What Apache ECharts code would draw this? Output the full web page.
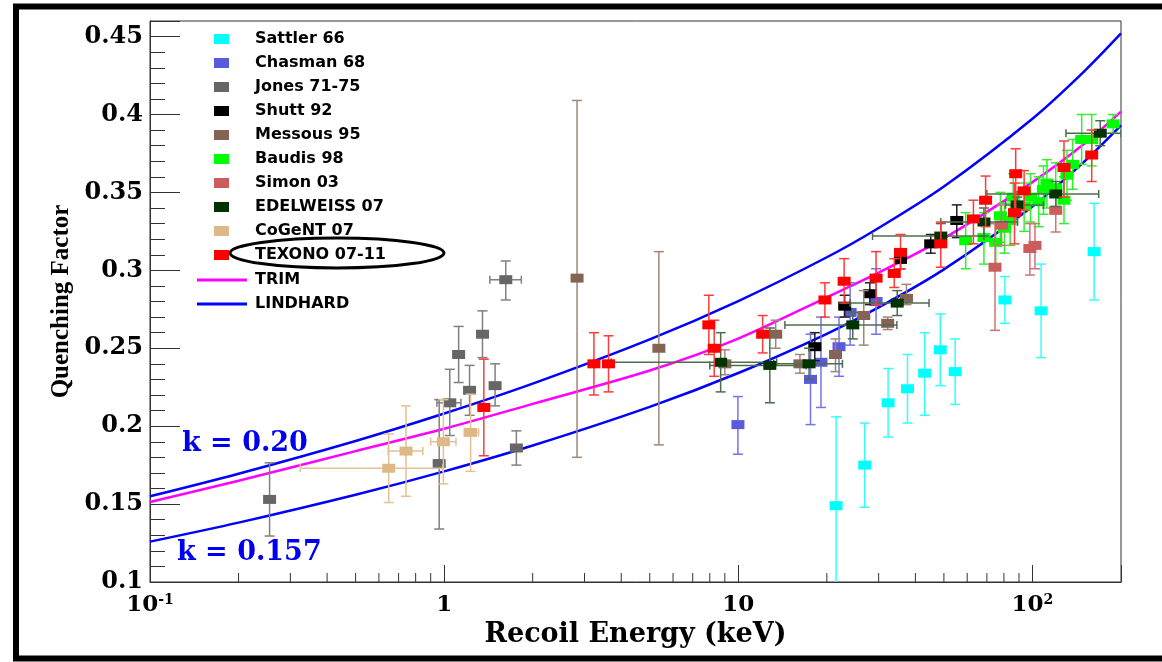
<!DOCTYPE html>
<html><head><meta charset="utf-8">
<script src="https://cdn.jsdelivr.net/npm/echarts@6/dist/echarts.min.js"></script>
<style>html,body{margin:0;padding:0;background:#fff}#c{width:1162px;height:662px}</style>
</head><body><div id="c"></div>
<script>
// Rows: [energy keV, quenching factor, error low, error high, (x error low), (x error high)]
const sattler = [
  [21.5, 0.149, 0.09, 0.206], [26.9, 0.175, 0.148, 0.202], [32.3, 0.215, 0.193, 0.237],
  [37.6, 0.224, 0.202, 0.246], [43.0, 0.234, 0.207, 0.260], [48.6, 0.249, 0.226, 0.272],
  [54.6, 0.235, 0.214, 0.256], [80.6, 0.281, 0.266, 0.296], [107, 0.274, 0.244, 0.304],
  [162, 0.312, 0.281, 0.343]
];
const chasman = [
  [9.97, 0.201, 0.182, 0.219], [17.6, 0.230, 0.201, 0.259], [19.1, 0.241, 0.212, 0.270],
  [22.0, 0.251, 0.232, 0.270], [24.0, 0.273, 0.252, 0.292], [29.4, 0.280, 0.259, 0.301]
];
const jones = [
  [0.255, 0.153, 0.1295, 0.1765], [0.962, 0.176, 0.134, 0.217], [1.045, 0.215, 0.194, 0.2365, 0.945, 1.14],
  [1.12, 0.246, 0.228, 0.264], [1.22, 0.223, 0.207, 0.239], [1.35, 0.259, 0.244, 0.274],
  [1.49, 0.226, 0.213, 0.240], [1.62, 0.294, 0.281, 0.306, 1.43, 1.83], [1.76, 0.186, 0.175, 0.197]
];
const shutt = [
  [18.2, 0.251, 0.242, 0.260], [23.0, 0.277, 0.270, 0.284], [28.0, 0.285, 0.278, 0.292],
  [35.6, 0.307, 0.301, 0.313], [45.1, 0.317, 0.311, 0.323], [55.3, 0.332, 0.321, 0.342]
];
const messous = [
  [2.83, 0.295, 0.180, 0.409], [5.37, 0.250, 0.188, 0.312], [9.0, 0.240, 0.233, 0.249],
  [13.4, 0.259, 0.250, 0.268], [16.2, 0.240, 0.234, 0.246], [21.4, 0.246, 0.235, 0.256],
  [26.7, 0.271, 0.252, 0.287], [32.2, 0.266, 0.262, 0.270], [37.3, 0.282, 0.278, 0.291]
];
const baudis = [
  [59.3, 0.319, 0.301, 0.337], [68.4, 0.321, 0.304, 0.337], [75.0, 0.318, 0.302, 0.330],
  [77.8, 0.335, 0.318, 0.350], [80.3, 0.327, 0.311, 0.343], [84.0, 0.332, 0.316, 0.347],
  [86.0, 0.347, 0.331, 0.362], [93.7, 0.341, 0.325, 0.356], [98.5, 0.347, 0.331, 0.362],
  [105, 0.344, 0.328, 0.360], [109, 0.352, 0.336, 0.367], [112, 0.356, 0.340, 0.371],
  [120, 0.353, 0.337, 0.369], [128, 0.345, 0.330, 0.360], [131, 0.361, 0.345, 0.377],
  [137, 0.368, 0.352, 0.384], [147, 0.384, 0.368, 0.400], [159, 0.384, 0.367, 0.400],
  [188, 0.394, 0.388, 0.400]
];
const simon = [
  [74.6, 0.302, 0.2615, 0.330], [78.5, 0.329, 0.316, 0.342], [98, 0.314, 0.297, 0.330],
  [102, 0.316, 0.301, 0.330], [120, 0.3385, 0.3246, 0.3487]
];
const edelweiss = [
  [8.71, 0.241, 0.222, 0.260, 3.7, 13.5], [12.8, 0.239, 0.215, 0.263, 8.0, 17.0],
  [17.4, 0.240, 0.230, 0.250, 13.2, 22.6], [24.5, 0.265, 0.256, 0.273, 14.4, 34.6],
  [34.7, 0.279, 0.271, 0.287, 24.0, 44.5], [48.8, 0.322, 0.315, 0.330, 28.6, 68.4],
  [68.4, 0.331, 0.322, 0.340, 48.8, 89], [88.8, 0.342, 0.337, 0.347, 81, 109],
  [120, 0.349, 0.341, 0.357, 70, 168], [170, 0.388, 0.380, 0.396, 130, 200]
];
const cogent = [
  [0.648, 0.173, 0.151, 0.195, 0.324, 0.99], [0.742, 0.184, 0.155, 0.213, 0.645, 0.846],
  [0.994, 0.190, 0.163, 0.217, 0.90, 1.097], [1.23, 0.196, 0.171, 0.2205, 1.17, 1.31]
];
const texono = [
  [1.364, 0.212, 0.181, 0.243], [3.23, 0.240, 0.220, 0.260], [3.62, 0.240, 0.222, 0.258],
  [7.94, 0.265, 0.246, 0.284], [8.28, 0.250, 0.232, 0.268], [12.1, 0.259, 0.247, 0.271],
  [19.7, 0.281, 0.270, 0.292], [22.9, 0.293, 0.279, 0.3075], [29.4, 0.295, 0.278, 0.312],
  [33.9, 0.298, 0.289, 0.3075], [35.6, 0.3115, 0.301, 0.323], [48.8, 0.317, 0.302, 0.331],
  [63, 0.333, 0.317, 0.345], [69.3, 0.345, 0.328, 0.3605], [86.9, 0.337, 0.317, 0.356],
  [87.7, 0.362, 0.337, 0.378], [93.7, 0.351, 0.3385, 0.364], [128, 0.366, 0.347, 0.383],
  [159, 0.374, 0.357, 0.390]
];
// Curves
const trimE = [0.1, 0.2, 0.5, 1, 2, 5, 10, 20, 30, 50, 100, 150, 200];
const trimQ = [0.1513, 0.165, 0.184, 0.1983, 0.2143, 0.2357, 0.2562, 0.2827, 0.2985, 0.3205, 0.3566, 0.3812, 0.4018];
const lindE = [0.1, 0.2, 0.5, 1, 2, 5, 10, 20, 30, 50, 100, 150, 200];
const lindK020 = [0.1550, 0.1695, 0.1905, 0.2081, 0.2273, 0.2557, 0.2803, 0.3084, 0.3272, 0.3538, 0.3973, 0.4277, 0.4520];
const lindK0157 = [0.1259, 0.1381, 0.1560, 0.1710, 0.1876, 0.2124, 0.2341, 0.2593, 0.2762, 0.3006, 0.3410, 0.3698, 0.3930];
// Axis ticks
const xMajorTicks = [0.1, 1, 10, 100];
const xTickBase = ['10', '1', '10', '10'];
const xTickExp = ['-1', '', '', '2'];
const xMinorTicks = [0.2, 0.3, 0.4, 0.5, 0.6, 0.7, 0.8, 0.9, 2, 3, 4, 5, 6, 7, 8, 9, 20, 30, 40, 50, 60, 70, 80, 90];
const yTickValues = [0.1, 0.15, 0.2, 0.25, 0.3, 0.35, 0.4, 0.45];
const yTickLabels = ['0.1', '0.15', '0.2', '0.25', '0.3', '0.35', '0.4', '0.45'];

const datasets = [
  { name: 'Sattler 66', data: sattler, color: '#00ffff', err: '#33ffff' },
  { name: 'Chasman 68', data: chasman, color: '#5a5adc', err: '#7474e4' },
  { name: 'Jones 71-75', data: jones, color: '#666666', err: '#808080' },
  { name: 'Shutt 92', data: shutt, color: '#000000', err: '#222222' },
  { name: 'Messous 95', data: messous, color: '#856456', err: '#a08779' },
  { name: 'Baudis 98', data: baudis, color: '#00ff00', err: '#33ee33' },
  { name: 'Simon 03', data: simon, color: '#cd5c5c', err: '#d37272' },
  { name: 'EDELWEISS 07', data: edelweiss, color: '#003300', err: '#4c6e4c' },
  { name: 'CoGeNT 07', data: cogent, color: '#deb887', err: '#e2c195' },
  { name: 'TEXONO 07-11', data: texono, color: '#ff0000', err: '#ff3a3a' }
];

function errRender(color) {
  return function (params, api) {
    const x = api.value(0), y = api.value(1), lo = api.value(2), hi = api.value(3);
    const xl = api.value(4), xh = api.value(5);
    const c = api.coord([x, y]), a = api.coord([x, lo]), b = api.coord([x, hi]);
    const st = { stroke: color, lineWidth: 1.5 };
    const ch = [
      { type: 'line', shape: { x1: c[0], y1: a[1], x2: c[0], y2: b[1] }, style: st },
      { type: 'line', shape: { x1: c[0] - 5, y1: a[1], x2: c[0] + 5, y2: a[1] }, style: st },
      { type: 'line', shape: { x1: c[0] - 5, y1: b[1], x2: c[0] + 5, y2: b[1] }, style: st }
    ];
    if (xl > 0 && xh > 0) {
      const l = api.coord([xl, y]), r = api.coord([xh, y]);
      ch.push({ type: 'line', shape: { x1: l[0], y1: c[1], x2: r[0], y2: c[1] }, style: st });
      ch.push({ type: 'line', shape: { x1: l[0], y1: c[1] - 4, x2: l[0], y2: c[1] + 4 }, style: st });
      ch.push({ type: 'line', shape: { x1: r[0], y1: c[1] - 4, x2: r[0], y2: c[1] + 4 }, style: st });
    }
    return { type: 'group', children: ch };
  };
}

const series = [];
series.push({ type: 'line', name: 'LINDHARD', color: '#0000ff', data: lindE.map((e, i) => [e, lindK020[i]]),
  smooth: 0.3, showSymbol: false, lineStyle: { color: '#0000ff', width: 2.5 }, z: 2, silent: true });
series.push({ type: 'line', name: 'LINDHARD k=0.157', color: '#0000ff', data: lindE.map((e, i) => [e, lindK0157[i]]),
  smooth: 0.3, showSymbol: false, lineStyle: { color: '#0000ff', width: 2.5 }, z: 2, silent: true });
series.push({ type: 'line', name: 'TRIM', color: '#ff00ff', data: trimE.map((e, i) => [e, trimQ[i]]),
  smooth: 0.3, showSymbol: false, lineStyle: { color: '#ff00ff', width: 2.5 }, z: 2, silent: true });
series.push({ type: 'custom', name: 'xminor', silent: true, clip: false, z: 1,
  data: xMinorTicks.map(v => [v, 0.1]), encode: { x: 0, y: 1 },
  renderItem: (p, api) => {
    const c = api.coord([api.value(0), 0.1]);
    return { type: 'line', shape: { x1: c[0], y1: c[1], x2: c[0], y2: c[1] - 9 }, style: { stroke: '#333', lineWidth: 1 } };
  } });
datasets.forEach((d, i) => {
  series.push({ type: 'custom', name: d.name + ' err', silent: true, clip: true, z: 3 + i,
    data: d.data.map(r => [r[0], r[1], r[2], r[3], r[4] || 0, r[5] || 0]), encode: { x: 0, y: 1 },
    renderItem: errRender(d.err) });
  series.push({ type: 'scatter', name: d.name, color: d.color, data: d.data.map(r => [r[0], r[1]]),
    symbol: 'rect', symbolSize: [13, 9], itemStyle: { color: d.color, opacity: 1 }, z: 3 + i, silent: true });
});

const serif = 'DejaVu Serif';
const chart = echarts.init(document.getElementById('c'), null, { renderer: 'canvas' });
chart.setOption({
  animation: false,
  backgroundColor: '#ffffff',
  grid: { left: 150, top: 21, width: 971, height: 561, show: true, borderColor: '#333', borderWidth: 1, backgroundColor: 'transparent' },
  xAxis: {
    type: 'log', logBase: 10, min: 0.1, max: 200,
    name: 'Recoil Energy (keV)', nameLocation: 'middle', nameGap: 35,
    nameTextStyle: { fontFamily: serif, fontWeight: 'bold', fontSize: 27, color: '#000' },
    axisLine: { lineStyle: { color: '#333', width: 1 } },
    axisTick: { inside: true, length: 17, lineStyle: { color: '#333' } },
    splitLine: { show: false },
    axisLabel: {
      margin: 11,
      formatter: v => {
        const i = xMajorTicks.findIndex(t => Math.abs(Math.log10(t) - Math.log10(v)) < 1e-6);
        if (i < 0) return '';
        return xTickExp[i] ? '{b|' + xTickBase[i] + '}{s|' + xTickExp[i] + '}' : '{b|' + xTickBase[i] + '}';
      },
      rich: {
        b: { fontFamily: serif, fontWeight: 'bold', fontSize: 23, color: '#000', lineHeight: 25 },
        s: { fontFamily: serif, fontWeight: 'bold', fontSize: 14, color: '#000', verticalAlign: 'top', lineHeight: 25, padding: [0, 0, 8, 0] }
      }
    }
  },
  yAxis: [{
    type: 'value', min: 0.1, max: 0.46, interval: 0.05,
    name: 'Quenching Factor', nameLocation: 'middle', nameGap: 73, nameRotate: 90,
    nameTextStyle: { fontFamily: 'Liberation Serif', fontWeight: 'bold', fontSize: 25, color: '#000' },
    axisLine: { show: true, lineStyle: { color: '#333', width: 1 } },
    axisTick: { show: true, inside: true, length: 30, lineStyle: { color: '#333' } },
    splitLine: { show: false },
    axisLabel: {
      margin: 7, fontFamily: serif, fontWeight: 'bold', fontSize: 24, color: '#000',
      formatter: v => {
        const i = yTickValues.findIndex(t => Math.abs(t - v) < 1e-6);
        return i >= 0 ? yTickLabels[i] : '';
      }
    }
  }, {
    type: 'value', min: 0.1, max: 0.46, interval: 0.01, position: 'left',
    axisLine: { show: false }, axisLabel: { show: false }, splitLine: { show: false },
    axisTick: { show: true, inside: true, length: 15, lineStyle: { color: '#333' } }
  }],
  legend: [{
    data: datasets.map(d => d.name), orient: 'vertical', left: 214, top: 30, padding: 0,
    itemWidth: 15, itemHeight: 10, itemGap: 6, icon: 'rect', selectedMode: false,
    textStyle: { fontFamily: 'DejaVu Sans', fontWeight: 'bold', fontSize: 16, color: '#000', lineHeight: 18, padding: [0, 0, 0, 21] }
  }, {
    data: ['TRIM', 'LINDHARD'], orient: 'vertical', left: 197, top: 271, padding: 0,
    itemWidth: 50, itemHeight: 3, itemGap: 6, icon: 'rect', selectedMode: false,
    textStyle: { fontFamily: 'DejaVu Sans', fontWeight: 'bold', fontSize: 16, color: '#000', lineHeight: 18, padding: [0, 0, 0, 3] }
  }],
  graphic: [
    { type: 'rect', silent: true, shape: { x: 16, y: 6.5, width: 1160, height: 652 }, style: { fill: 'none', stroke: '#000', lineWidth: 6 } },
    { type: 'ellipse', silent: true, shape: { cx: 337, cy: 253, rx: 107, ry: 15 }, style: { fill: 'none', stroke: '#000', lineWidth: 3 } },
    { type: 'text', silent: true, left: 182, top: 430, style: { text: 'k = 0.20', font: 'bold 27px "DejaVu Serif"', fill: '#0000ee' } },
    { type: 'text', silent: true, left: 177, top: 539, style: { text: 'k = 0.157', font: 'bold 27px "DejaVu Serif"', fill: '#0000ee' } }
  ],
  series: series
});
</script>
</body></html>
